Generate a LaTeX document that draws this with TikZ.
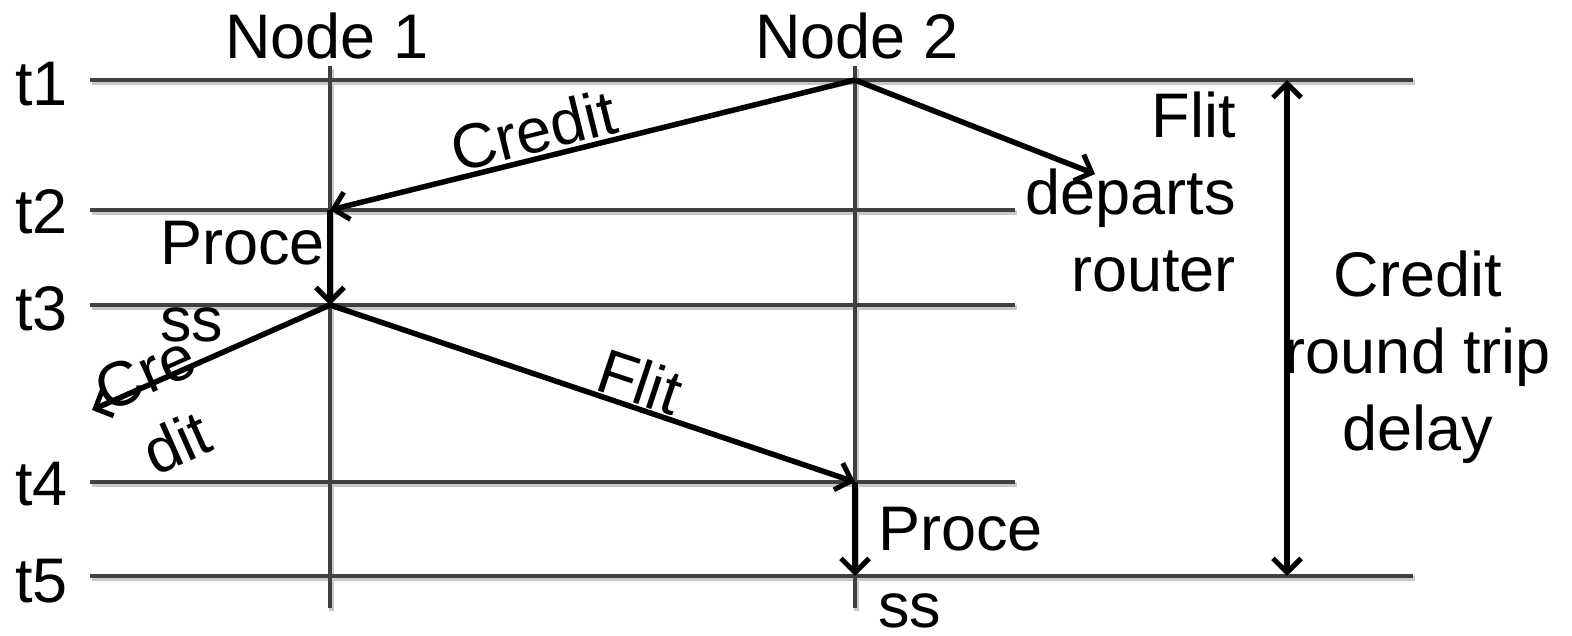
\documentclass[tikz,border=0pt]{standalone}
\usepackage{fontspec}
\setmainfont{Liberation Sans}
\usetikzlibrary{arrows.meta}
\definecolor{gridgray}{RGB}{64,64,64}
\definecolor{shadegray}{RGB}{200,200,200}
\begin{document}
\begin{tikzpicture}[x=1pt,y=-1pt,
  timeline/.style={draw=gridgray, line width=4.5pt},
  shade/.style={draw=shadegray, line width=4.5pt, transform canvas={shift={(1.5pt,-2.5pt)}}},
  flow/.style={draw=black, line width=5.5pt, -{Straight Barb[length=14pt,width=28pt,line width=5pt]}},
  span/.style={draw=black, line width=5.5pt,
    {Straight Barb[length=14pt,width=28pt,line width=5pt]}-{Straight Barb[length=14pt,width=28pt,line width=5pt]}},
  lbl/.style={font=\fontsize{63}{77}\selectfont, inner sep=0pt}
]
\useasboundingbox (0,0) rectangle (1572,635);

% time rows: left and right ends
\coordinate (a1) at (90,80);  \coordinate (b1) at (1413,80);
\coordinate (a2) at (90,210); \coordinate (b2) at (1015,210);
\coordinate (a3) at (90,305); \coordinate (b3) at (1015,305);
\coordinate (a4) at (90,482); \coordinate (b4) at (1015,482);
\coordinate (a5) at (90,576); \coordinate (b5) at (1413,576);
% node columns
\coordinate (c1top) at (330,66);  \coordinate (c1bot) at (330,608);
\coordinate (c2top) at (855,66);  \coordinate (c2bot) at (855,608);

% soft shadow under the grid
\foreach \i in {1,...,5} \draw[shade] (a\i) -- (b\i);
\draw[shade] (c1top) -- (c1bot);
\draw[shade] (c2top) -- (c2bot);

% grid
\foreach \i in {1,...,5} \draw[timeline] (a\i) -- (b\i);
\draw[timeline] (c1top) -- (c1bot);
\draw[timeline] (c2top) -- (c2bot);

% event points
\coordinate (n2t1) at (855,80);
\coordinate (n1t2) at (330,210);
\coordinate (n1t3) at (330,305);
\coordinate (n2t4) at (855,482);
\coordinate (n2t5) at (855,576);
\coordinate (flitout) at (1095,174);
\coordinate (credout) at (92,410);
\coordinate (rtTop) at (1287,80);
\coordinate (rtBot) at (1287,576);

% labels
\node[lbl, anchor=base west] (t1) at (15,105) {t1};
\node[lbl, anchor=base west] (t2) at (15,233) {t2};
\node[lbl, anchor=base west] (t3) at (15,330) {t3};
\node[lbl, anchor=base west] (t4) at (15,505) {t4};
\node[lbl, anchor=base west] (t5) at (15,602) {t5};
\node[lbl, anchor=base] (node1) at (327,58) {Node 1};
\node[lbl, anchor=base] (node2) at (857,58) {Node 2};

% messages
\draw[flow] (n2t1) -- (n1t2);
\draw[flow] (n2t1) -- (flitout);
\draw[flow] (n1t2) -- (n1t3);
\draw[flow] (n1t3) -- (credout);
\draw[flow] (n1t3) -- (n2t4);
\draw[flow] (n2t4) -- (n2t5);
\draw[span] (rtTop) -- (rtBot);

\node[lbl, anchor=base, rotate=13.9] (credit) at (539,152) {Credit};
\node[lbl, anchor=base, rotate=-18.4] (flit) at (633,403) {Flit};
\node[lbl, align=center, rotate=24] (credit2) at (161,408) {Cre\\dit};
\node[lbl, align=left, anchor=north west] (proc1) at (160,221) {Proce\\ss};
\node[lbl, align=left, anchor=north west] (proc2) at (878,507) {Proce\\ss};
\node[lbl, align=right, anchor=north east] (depart) at (1236,92) {Flit\\departs\\router};
\node[lbl, align=center, anchor=north] (rtd) at (1418,251) {Credit\\round trip\\delay};
\end{tikzpicture}
\end{document}
